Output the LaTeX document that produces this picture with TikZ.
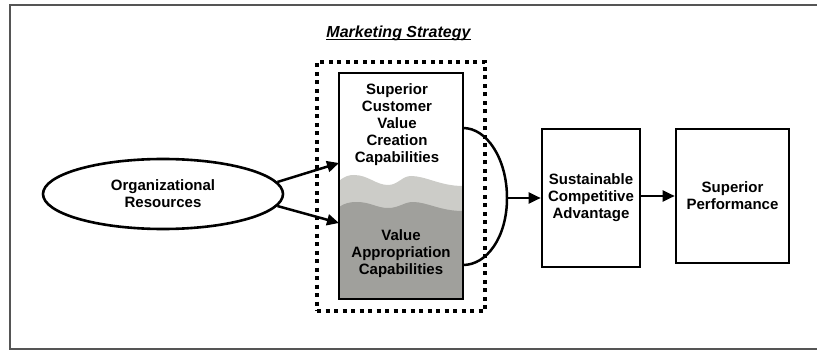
\documentclass[tikz,border=0pt]{standalone}
\usepackage{fontspec}
\setmainfont{Liberation Sans}
\usetikzlibrary{arrows.meta,shapes.geometric}
\definecolor{wavelight}{RGB}{204,204,200}
\definecolor{wavedark}{RGB}{160,160,156}
\definecolor{framegray}{RGB}{85,85,85}

\begin{document}
\begin{tikzpicture}[x=1pt,y=1pt,yscale=-1,
  txt/.style={font=\fontsize{15}{17}\selectfont\bfseries, align=center, inner sep=0pt},
  box/.style={draw, line width=2.6pt, txt},
  dotbox/.style={draw, line width=3.5pt, dash pattern=on 4pt off 4.5pt, inner sep=0pt},
  link/.style={line width=2.5pt},
  arr/.style={link, -{Triangle[length=12pt,width=11pt]}}]
\useasboundingbox (0,0) rectangle (817,350);

%Frame
\draw [framegray, line width=1.3pt] (817,5) -- (10,5) -- (10,349) -- (817,349);

%Shape: Dotted strategy box
\node [dotbox, minimum width=168, minimum height=249] (mstrat) at (401,186.5) {};
% Text Node
\node [txt, font=\fontsize{16}{18}\selectfont\bfseries\itshape, anchor=base] (title) at (398.5,37.5) {Marketing Strategy};
\draw [line width=1.3pt] ([yshift=2pt]title.base west) -- ([yshift=2pt]title.base east);

%Shape: Waves
\fill [wavelight] (339,181) .. controls (345,176) and (349,175) .. (354,175) .. controls (368,175) and (376,185) .. (388,185) .. controls (398,185) and (402,176) .. (411,176) .. controls (426,176) and (440,186) .. (463,186) -- (463,299) -- (339,299) -- cycle;
\fill [wavedark] (339,207) .. controls (345,203) and (350,202) .. (357,202) .. controls (370,202) and (377,208) .. (388,208) .. controls (399,208) and (404,202) .. (413,202) .. controls (427,202) and (440,211) .. (463,211) -- (463,299) -- (339,299) -- cycle;

%Shape: Capabilities box
\node [box, minimum width=124, minimum height=226] (vbox) at (401,186) {};
% Text Node
\node [txt] (create) at (397,125) {Superior\\Customer\\Value\\Creation\\Capabilities};
% Text Node
\node [txt] (approp) at (401,254) {Value\\Appropriation\\Capabilities};

%Shape: Ellipse
\node [box, ellipse, minimum width=240, minimum height=70] (orgres) at (163,194) {Organizational\\Resources};

%Shape: Boxes
\node [box, minimum width=98, minimum height=138] (sca) at (591,198) {Sustainable\\Competitive\\Advantage};
\node [box, minimum width=113, minimum height=134] (sp) at (732.5,196) {Superior\\Performance};

%Straight Lines
\coordinate (in1) at (339,163);
\coordinate (in2) at (339,223);
\draw [arr] (orgres.6) -- (in1);
\draw [arr] (orgres.-6) -- (in2);

%Bracket
\coordinate (ctop) at (463,128);
\coordinate (cbot) at (463,265);
\coordinate (join) at (507,198);
\draw [link] (ctop) .. controls (487,128) and (507,159) .. (join) .. controls (507,237) and (487,265) .. (cbot);
\draw [arr] (join) -- (sca.west);
\draw [arr] (sp.west -| sca.east) -- (sp.west);

\end{tikzpicture}
\end{document}
